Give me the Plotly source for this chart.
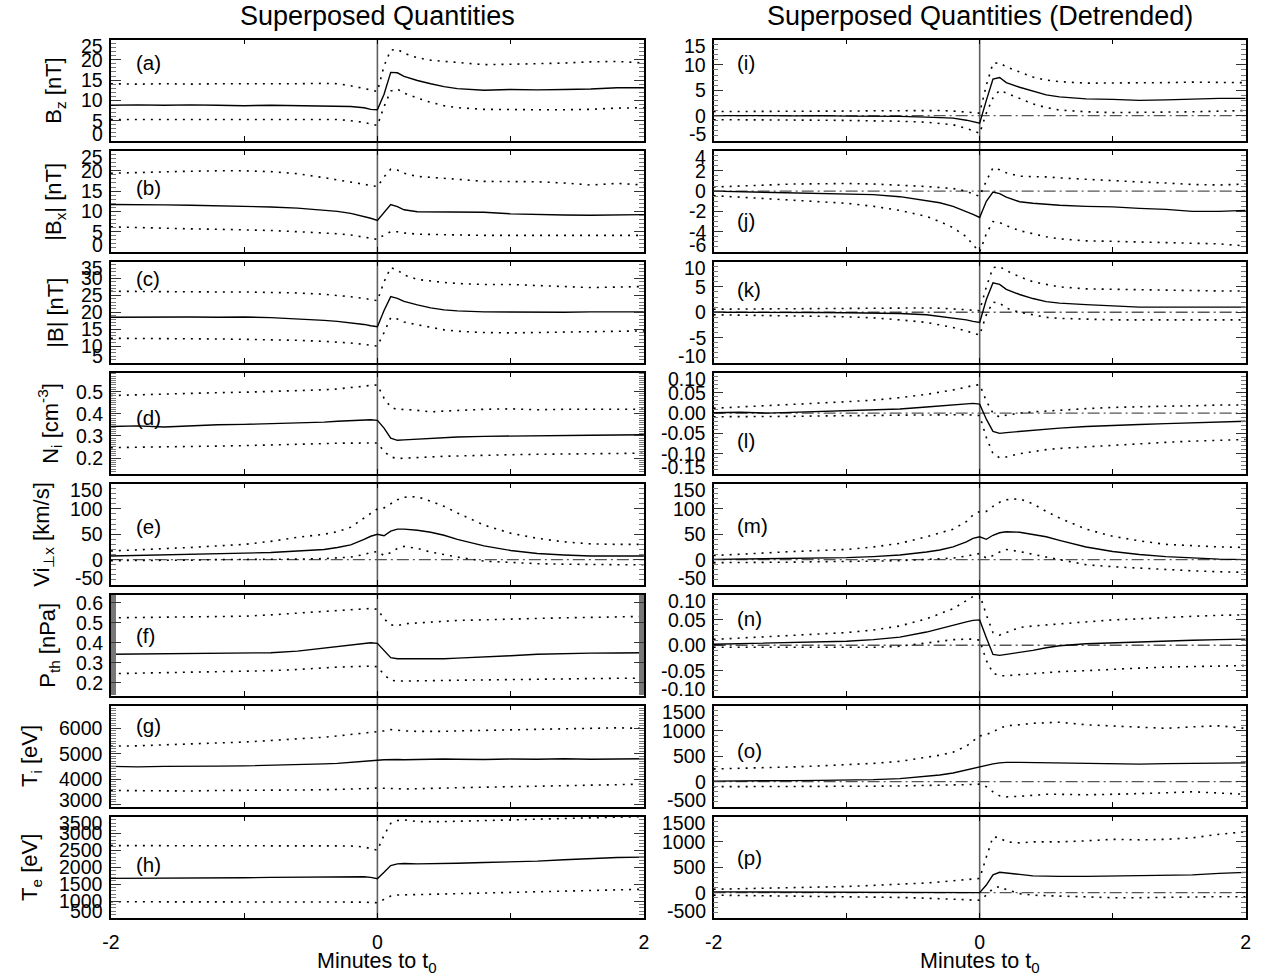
import plotly.graph_objects as go

W, H = 1270, 979
FONT = "Liberation Sans, Arial, Helvetica, sans-serif"

# ---------------- data (minutes relative to t0) ----------------
T = [-2.0, -1.8, -1.6, -1.4, -1.2, -1.0, -0.8, -0.6, -0.4, -0.3, -0.2, -0.1, -0.05,
     0.0, 0.05, 0.1, 0.15, 0.2, 0.3, 0.4, 0.5, 0.6, 0.8, 1.0, 1.2, 1.4, 1.6, 1.8, 2.0]

# (a) Bz
BZ_MED = [8.8, 8.9, 8.8, 8.9, 8.8, 8.7, 8.8, 8.7, 8.6, 8.6, 8.5, 8.2, 7.8, 7.7, 11.5, 16.9, 16.8, 15.9, 14.9, 14.1, 13.4, 12.9, 12.5, 12.7, 12.6, 12.7, 12.8, 13.1, 13.1]
BZ_UP = [14.1, 14.0, 14.1, 14.0, 14.1, 14.1, 14.0, 14.1, 14.2, 14.1, 13.6, 13.0, 12.6, 12.2, 18.5, 22.4, 22.6, 21.6, 20.5, 19.9, 19.6, 19.3, 18.8, 18.9, 19.0, 19.2, 19.5, 19.6, 19.2]
BZ_LO = [5.3, 5.3, 5.4, 5.3, 5.4, 5.4, 5.3, 5.4, 5.4, 5.3, 5.0, 4.6, 4.2, 3.8, 8.5, 12.3, 12.8, 11.8, 10.6, 9.5, 8.7, 8.2, 7.8, 7.7, 7.7, 7.7, 7.8, 8.1, 8.2]
# (b) |Bx|
BX_MED = [11.7, 11.7, 11.6, 11.5, 11.4, 11.3, 11.1, 10.8, 10.3, 10.0, 9.5, 8.8, 8.3, 7.8, 9.8, 11.7, 11.2, 10.4, 9.9, 9.9, 9.9, 9.9, 9.8, 9.4, 9.2, 9.1, 9.05, 9.1, 9.2]
BX_UP = [19.4, 19.6, 19.8, 19.9, 20.0, 20.0, 19.8, 19.3, 18.3, 17.8, 17.3, 16.8, 16.4, 16.1, 18.5, 20.4, 20.2, 19.4, 18.6, 18.4, 18.2, 17.9, 17.4, 17.4, 17.3, 17.0, 16.5, 16.9, 16.5]
BX_LO = [6.2, 6.0, 5.9, 5.7, 5.6, 5.5, 5.3, 5.0, 4.7, 4.5, 4.2, 3.7, 3.4, 3.1, 4.2, 5.0, 5.0, 4.7, 4.4, 4.3, 4.3, 4.2, 4.1, 4.1, 4.1, 4.0, 4.1, 4.1, 4.1]
# (c) |B|
BT_MED = [18.5, 18.6, 18.5, 18.6, 18.5, 18.6, 18.4, 18.1, 17.6, 17.3, 16.9, 16.4, 16.0, 15.7, 20.5, 24.6, 24.1, 23.2, 22.2, 21.3, 20.7, 20.4, 20.1, 20.0, 19.9, 20.0, 20.1, 20.1, 20.1]
BT_UP = [26.2, 26.1, 26.0, 26.1, 26.0, 26.0, 25.9, 25.7, 25.3, 25.0, 24.6, 24.1, 23.7, 23.4, 29.0, 33.2, 32.5, 31.0, 29.7, 29.2, 28.8, 28.5, 28.2, 28.2, 28.0, 27.6, 27.3, 27.5, 27.6]
BT_LO = [12.3, 12.3, 12.2, 12.2, 12.1, 12.0, 11.9, 11.7, 11.4, 11.2, 10.9, 10.5, 10.2, 10.0, 14.0, 18.4, 18.0, 17.1, 16.3, 15.5, 14.8, 14.4, 14.0, 13.9, 14.0, 14.1, 14.2, 14.4, 14.5]
# (d) Ni
NI_MED = [0.342, 0.345, 0.340, 0.346, 0.350, 0.352, 0.355, 0.357, 0.362, 0.366, 0.370, 0.372, 0.373, 0.370, 0.335, 0.290, 0.280, 0.282, 0.285, 0.290, 0.293, 0.295, 0.298, 0.300, 0.302, 0.301, 0.303, 0.304, 0.305]
NI_UP = [0.482, 0.486, 0.490, 0.493, 0.495, 0.497, 0.500, 0.503, 0.508, 0.512, 0.517, 0.524, 0.528, 0.530, 0.470, 0.430, 0.418, 0.420, 0.415, 0.408, 0.412, 0.415, 0.420, 0.422, 0.418, 0.420, 0.420, 0.422, 0.420]
NI_LO = [0.247, 0.248, 0.250, 0.252, 0.254, 0.256, 0.258, 0.261, 0.265, 0.267, 0.268, 0.270, 0.270, 0.268, 0.230, 0.205, 0.198, 0.200, 0.202, 0.205, 0.208, 0.210, 0.212, 0.215, 0.217, 0.218, 0.220, 0.222, 0.222]
# (e) Vi_perp_x
VI_MED = [7, 8, 9, 10, 11, 12, 14, 17, 20, 24, 29, 40, 46, 50, 47, 56, 60, 60, 58, 54, 48, 40, 27, 18, 12, 9, 7, 7, 7]
VI_UP = [17, 19, 21, 24, 27, 30, 36, 44, 50, 55, 64, 82, 92, 100, 102, 110, 118, 123, 124, 115, 105, 92, 68, 52, 42, 35, 31, 30, 30]
VI_LO = [-2, -2, -1, -1, 0, 0, 0, 1, 2, 3, 5, 10, 14, 16, 8, 14, 22, 26, 22, 15, 10, 5, -3, -6, -8, -9, -10, -10, -10]
# (f) Pth
PT_MED = [0.342, 0.343, 0.344, 0.344, 0.345, 0.346, 0.350, 0.358, 0.372, 0.380, 0.388, 0.396, 0.400, 0.397, 0.360, 0.325, 0.320, 0.320, 0.318, 0.318, 0.320, 0.323, 0.328, 0.335, 0.342, 0.346, 0.348, 0.349, 0.350]
PT_UP = [0.525, 0.527, 0.529, 0.530, 0.532, 0.533, 0.540, 0.548, 0.558, 0.562, 0.566, 0.570, 0.572, 0.568, 0.520, 0.490, 0.485, 0.495, 0.500, 0.505, 0.508, 0.512, 0.515, 0.520, 0.522, 0.525, 0.527, 0.530, 0.532]
PT_LO = [0.245, 0.247, 0.250, 0.252, 0.254, 0.256, 0.260, 0.266, 0.275, 0.278, 0.280, 0.283, 0.283, 0.280, 0.240, 0.212, 0.208, 0.208, 0.210, 0.210, 0.211, 0.212, 0.214, 0.217, 0.219, 0.220, 0.221, 0.222, 0.222]
# (g) Ti
TI_MED = [4500, 4480, 4500, 4490, 4510, 4520, 4540, 4560, 4600, 4620, 4650, 4680, 4700, 4740, 4760, 4780, 4770, 4760, 4780, 4770, 4790, 4780, 4770, 4790, 4780, 4800, 4780, 4790, 4800]
TI_UP = [5300, 5310, 5350, 5380, 5420, 5460, 5520, 5580, 5650, 5700, 5750, 5800, 5830, 5850, 5900, 5950, 5920, 5900, 5880, 5870, 5880, 5900, 5920, 5950, 5960, 5980, 6000, 6020, 6000]
TI_LO = [3550, 3540, 3550, 3530, 3550, 3550, 3560, 3570, 3580, 3590, 3600, 3620, 3630, 3650, 3640, 3620, 3600, 3610, 3620, 3640, 3650, 3660, 3680, 3700, 3720, 3740, 3760, 3780, 3800]
# (h) Te
TE_MED = [1670, 1670, 1680, 1680, 1690, 1690, 1700, 1710, 1720, 1730, 1730, 1720, 1700, 1660, 1850, 2050, 2100, 2110, 2100, 2100, 2110, 2120, 2140, 2150, 2180, 2220, 2260, 2290, 2300]
TE_UP = [2640, 2640, 2650, 2640, 2650, 2640, 2650, 2640, 2650, 2640, 2630, 2600, 2560, 2500, 2950, 3300, 3380, 3400, 3350, 3340, 3350, 3360, 3380, 3400, 3420, 3430, 3440, 3470, 3500]
TE_LO = [980, 980, 975, 980, 985, 980, 985, 990, 990, 985, 980, 970, 960, 950, 1050, 1150, 1180, 1180, 1190, 1200, 1210, 1220, 1240, 1250, 1270, 1290, 1310, 1330, 1350]

# (i)..(p) detrended
DBZ_MED = [0, 0.05, 0, -0.05, 0, -0.1, -0.1, -0.15, -0.3, -0.4, -0.5, -0.9, -1.2, -1.5, 3.0, 7.2, 7.5, 6.5, 5.6, 4.9, 4.1, 3.7, 3.3, 3.2, 3.0, 3.1, 3.3, 3.4, 3.4]
DBZ_UP = [0.8, 0.8, 0.85, 0.85, 0.9, 0.9, 0.95, 1.0, 1.0, 1.0, 0.9, 0.7, 0.6, 0.5, 6.0, 10.3, 10.4, 9.6, 8.6, 7.6, 7.0, 6.7, 6.4, 6.4, 6.4, 6.5, 6.6, 6.6, 6.5]
DBZ_LO = [-0.8, -0.8, -0.85, -0.9, -0.9, -0.95, -1.0, -1.1, -1.3, -1.5, -1.8, -2.5, -3.0, -3.5, 0.5, 3.5, 5.0, 4.5, 3.4, 2.3, 1.6, 1.1, 0.76, 0.6, 0.6, 0.7, 0.76, 0.9, 1.0]
DBX_MED = [0, -0.05, -0.1, -0.15, -0.2, -0.25, -0.35, -0.55, -0.9, -1.15, -1.5, -2.0, -2.3, -2.6, -1.0, -0.1, -0.25, -0.6, -1.05, -1.2, -1.3, -1.4, -1.5, -1.55, -1.7, -1.8, -2.0, -2.0, -1.9]
DBX_UP = [0.4, 0.5, 0.6, 0.7, 0.72, 0.75, 0.7, 0.6, 0.45, 0.35, 0.25, 0.0, -0.3, -0.5, 1.0, 2.3, 2.1, 1.8, 1.47, 1.42, 1.40, 1.3, 1.15, 1.0, 0.9, 0.8, 0.65, 0.6, 0.7]
DBX_LO = [-0.45, -0.6, -0.75, -0.9, -1.05, -1.2, -1.5, -1.9, -2.5, -3.0, -3.6, -4.5, -5.3, -6.0, -4.2, -3.0, -3.1, -3.4, -3.9, -4.2, -4.5, -4.7, -4.9, -4.95, -5.0, -5.05, -5.1, -5.2, -5.4]
DBT_MED = [0, 0, 0.05, 0, -0.05, -0.1, -0.15, -0.25, -0.5, -0.8, -1.1, -1.5, -1.8, -2.0, 2.5, 5.8, 5.5, 4.5, 3.5, 2.7, 2.1, 1.8, 1.5, 1.2, 1.0, 1.0, 1.0, 1.0, 1.0]
DBT_UP = [0.6, 0.65, 0.65, 0.7, 0.7, 0.75, 0.8, 0.8, 0.85, 0.8, 0.7, 0.5, 0.4, 0.3, 5.0, 8.8, 9.0, 8.2, 7.0, 6.0, 5.5, 5.0, 4.6, 4.5, 4.4, 4.3, 4.2, 4.2, 4.2]
DBT_LO = [-0.5, -0.55, -0.6, -0.7, -0.8, -0.9, -1.1, -1.5, -2.0, -2.5, -3.0, -3.7, -4.1, -4.5, -0.5, 2.0, 1.8, 0.8, 0.0, -0.5, -1.0, -1.2, -1.4, -1.5, -1.5, -1.5, -1.6, -1.5, -1.5]
DNI_MED = [0.001, 0.002, 0.0, 0.002, 0.004, 0.005, 0.007, 0.010, 0.015, 0.018, 0.021, 0.023, 0.024, 0.022, -0.015, -0.045, -0.050, -0.048, -0.045, -0.042, -0.040, -0.037, -0.033, -0.030, -0.028, -0.026, -0.024, -0.022, -0.020]
DNI_UP = [0.012, 0.015, 0.018, 0.021, 0.024, 0.028, 0.032, 0.038, 0.046, 0.051, 0.057, 0.064, 0.068, 0.070, 0.030, 0.000, -0.010, -0.005, 0.000, 0.003, 0.005, 0.008, 0.011, 0.014, 0.016, 0.017, 0.018, 0.020, 0.020]
DNI_LO = [-0.009, -0.009, -0.008, -0.008, -0.007, -0.007, -0.006, -0.005, -0.004, -0.004, -0.004, -0.004, -0.005, -0.006, -0.060, -0.100, -0.110, -0.108, -0.100, -0.095, -0.090, -0.087, -0.083, -0.080, -0.076, -0.072, -0.069, -0.067, -0.065]
DVI_MED = [0.5, 1, 1.5, 2, 3, 4, 6, 9, 15, 19, 25, 35, 42, 45, 40, 48, 53, 55, 54, 50, 45, 38, 25, 16, 10, 6, 3, 1, 0]
DVI_UP = [8, 11, 13, 16, 18, 20, 25, 32, 45, 52, 60, 75, 88, 95, 95, 105, 113, 118, 120, 110, 95, 82, 60, 46, 37, 30, 27, 25, 24]
DVI_LO = [-6, -6, -5, -5, -4, -4, -3, -2, 0, 1, 3, 7, 10, 12, 3, 8, 15, 20, 16, 10, 5, 0, -10, -14, -17, -20, -22, -24, -25]
DPT_MED = [0.002, 0.003, 0.004, 0.005, 0.006, 0.008, 0.011, 0.016, 0.026, 0.033, 0.040, 0.046, 0.049, 0.050, 0.015, -0.018, -0.020, -0.018, -0.015, -0.010, -0.005, -0.001, 0.003, 0.005, 0.007, 0.009, 0.010, 0.011, 0.012]
DPT_UP = [0.0115, 0.014, 0.017, 0.020, 0.022, 0.025, 0.030, 0.038, 0.052, 0.062, 0.072, 0.088, 0.096, 0.100, 0.060, 0.025, 0.020, 0.025, 0.035, 0.038, 0.040, 0.043, 0.047, 0.050, 0.052, 0.055, 0.057, 0.059, 0.060]
DPT_LO = [-0.004, -0.004, -0.005, -0.005, -0.005, -0.005, -0.004, -0.002, 0.004, 0.008, 0.011, 0.012, 0.012, 0.010, -0.030, -0.055, -0.060, -0.060, -0.058, -0.056, -0.055, -0.052, -0.050, -0.047, -0.045, -0.043, -0.042, -0.041, -0.040]
DTI_MED = [10, 10, 15, 20, 25, 30, 40, 60, 100, 130, 170, 230, 270, 300, 320, 350, 370, 380, 380, 375, 370, 360, 350, 350, 345, 355, 360, 365, 370]
DTI_UP = [250, 260, 270, 290, 310, 330, 360, 400, 470, 520, 580, 700, 800, 900, 930, 980, 1050, 1100, 1120, 1150, 1160, 1170, 1120, 1100, 1080, 1050, 1080, 1100, 1050]
DTI_LO = [-100, -100, -100, -95, -95, -90, -90, -85, -80, -75, -70, -60, -55, -50, -100, -200, -280, -300, -290, -270, -250, -250, -260, -250, -240, -220, -200, -220, -250]
DTE_MED = [14, 12, 10, 10, 8, 8, 6, 5, 5, 4, 3, 2, 0, 0, 150, 350, 400, 390, 360, 330, 320, 320, 320, 330, 330, 340, 350, 380, 400]
DTE_UP = [66, 80, 90, 100, 110, 120, 140, 160, 190, 210, 230, 250, 260, 280, 700, 1100, 1080, 1000, 980, 1000, 1000, 1000, 1020, 1050, 1040, 1050, 1080, 1150, 1200]
DTE_LO = [-50, -55, -60, -65, -70, -75, -85, -95, -110, -120, -130, -140, -145, -150, -50, 80, 120, 60, -20, -50, -60, -70, -90, -100, -100, -90, -85, -80, -80]

# axis ranges / tick labels
Y_RANGES = [[0, 25], [0, 25], [5, 35], [0.128, 0.586], [-50, 150], [0.133, 0.642], [2900, 6900], [500, 3500],
            [-5, 15], [-6, 4], [-10, 10], [-0.15, 0.10], [-50, 150], [-0.10, 0.10], [-500, 1500], [-500, 1500]]
Y_TICKS = [[0, 5, 10, 15, 20, 25], [0, 5, 10, 15, 20, 25], [5, 10, 15, 20, 25, 30, 35], [0.2, 0.3, 0.4, 0.5],
           [-50, 0, 50, 100, 150], [0.2, 0.3, 0.4, 0.5, 0.6], [3000, 4000, 5000, 6000],
           [500, 1000, 1500, 2000, 2500, 3000, 3500],
           [-5, 0, 5, 10, 15], [-6, -4, -2, 0, 2, 4], [-10, -5, 0, 5, 10], [-0.15, -0.10, -0.05, 0.0, 0.05, 0.10],
           [-50, 0, 50, 100, 150], [-0.10, -0.05, 0.0, 0.05, 0.10], [-500, 0, 500, 1000, 1500], [-500, 0, 500, 1000, 1500]]
Y_TICKFMT = ["{:g}", "{:g}", "{:g}", "{:.1f}", "{:g}", "{:.1f}", "{:g}", "{:g}",
             "{:g}", "{:g}", "{:g}", "{:.2f}", "{:g}", "{:.2f}", "{:g}", "{:g}"]
Y_MINOR = [1, 1, 1, 0.01, 10, 0.005, 100, 100, 1, 0.5, 1, 0.01, 10, 0.01, 100, 100]
Y_TITLES = ["B<sub>z</sub> [nT]", "|B<sub>x</sub>| [nT]", "|B| [nT]", "N<sub>i</sub> [cm<sup>-3</sup>]",
            "Vi<sub>\u22a5x</sub> [km/s]", "P<sub>th</sub> [nPa]", "T<sub>i</sub> [eV]", "T<sub>e</sub> [eV]"]
LETTERS = ["(a)", "(b)", "(c)", "(d)", "(e)", "(f)", "(g)", "(h)",
           "(i)", "(j)", "(k)", "(l)", "(m)", "(n)", "(o)", "(p)"]
X_TICKS = [-2, -1, 0, 1, 2]
X_TICKTEXT = ["-2", " ", "0", " ", "2"]
COL_TITLES = ["Superposed Quantities", "Superposed Quantities (Detrended)"]
X_TITLE = "Minutes to t<sub>0</sub>"

SERIES = [(BZ_MED, BZ_UP, BZ_LO), (BX_MED, BX_UP, BX_LO), (BT_MED, BT_UP, BT_LO), (NI_MED, NI_UP, NI_LO),
          (VI_MED, VI_UP, VI_LO), (PT_MED, PT_UP, PT_LO), (TI_MED, TI_UP, TI_LO), (TE_MED, TE_UP, TE_LO),
          (DBZ_MED, DBZ_UP, DBZ_LO), (DBX_MED, DBX_UP, DBX_LO), (DBT_MED, DBT_UP, DBT_LO), (DNI_MED, DNI_UP, DNI_LO),
          (DVI_MED, DVI_UP, DVI_LO), (DPT_MED, DPT_UP, DPT_LO), (DTI_MED, DTI_UP, DTI_LO), (DTE_MED, DTE_UP, DTE_LO)]
ZERO_LINE = [False, False, False, False, True, False, False, False] + [True] * 8

# ---------------- layout geometry (pixels) ----------------
TOP0, PERIOD, PH = 39.5, 111.0, 101.5
COL_X = [(103.0, 642.0), (712.5, 1250.5)]
TITLE_X = [47, 47, 47, 41, 35, 41, 23, 23]
LETTER_Y = [62, 188, 279, 417, 526, 635, 725, 864, 62, 220, 289, 440, 525, 618, 750, 857]
LETTER_X = [126, 734]
TICK_FS = 19.5

fig = go.Figure()
layout = dict(width=W, height=H, margin=dict(l=0, r=0, t=0, b=0),
              paper_bgcolor="white", plot_bgcolor="rgba(0,0,0,0)", showlegend=False,
              font=dict(family=FONT, size=18, color="black"))
annotations = []
shapes = []

for k in range(16):
    col, row = divmod(k, 8)
    n = k + 1
    xs = "x" if n == 1 else f"x{n}"
    ys = "y" if n == 1 else f"y{n}"
    top = TOP0 + PERIOD * row
    bot = top + PH
    xl, xr = COL_X[col]
    lo_r, hi_r = Y_RANGES[k]
    med, up, lo = SERIES[k]

    if ZERO_LINE[k]:
        fig.add_trace(go.Scatter(x=[T[0], T[-1]], y=[0, 0], mode="lines", xaxis=xs, yaxis=ys,
                                 line=dict(color="#555555", width=1.3, dash="12px,4px,2px,4px"),
                                 hoverinfo="skip"))
    for arr in (up, lo):
        fig.add_trace(go.Scatter(x=T, y=arr, mode="lines", xaxis=xs, yaxis=ys,
                                 line=dict(color="black", width=1.6, dash="2px,6px")))
    fig.add_trace(go.Scatter(x=T, y=med, mode="lines", xaxis=xs, yaxis=ys,
                             line=dict(color="black", width=1.4)))

    xkey = "xaxis" if n == 1 else f"xaxis{n}"
    ykey = "yaxis" if n == 1 else f"yaxis{n}"
    layout[xkey] = dict(domain=[xl / W, xr / W], anchor=ys, range=[-2, 2],
                        showline=True, mirror="ticks", linecolor="black", linewidth=1.5,
                        ticks="inside", ticklen=5, tickwidth=1, tickcolor="black",
                        tickmode="array", tickvals=X_TICKS, ticktext=X_TICKTEXT,
                        showticklabels=(row == 7), ticklabelstandoff=6,
                        tickfont=dict(size=TICK_FS), showgrid=False, zeroline=False)
    layout[ykey] = dict(domain=[1 - bot / H, 1 - top / H], anchor=xs, range=[lo_r, hi_r],
                        showline=True, mirror="ticks", linecolor="black", linewidth=1.5,
                        ticks="inside", ticklen=10, tickwidth=1, tickcolor="#333333",
                        tickmode="array", tickvals=Y_TICKS[k], showticklabels=False,
                        minor=dict(ticks="inside", ticklen=5, tickwidth=1, tickcolor="#777777",
                                   tickmode="linear", tick0=0, dtick=Y_MINOR[k], showgrid=False),
                        showgrid=False, zeroline=False)

    # y tick labels (kept inside the panel's height, as in the original)
    for v in Y_TICKS[k]:
        p = top + (hi_r - v) / (hi_r - lo_r) * PH
        c = min(max(p, top + 6.5), bot - 7.0)
        annotations.append(dict(x=(xl - 6) / W, xref="paper", y=v, yref=ys, yshift=p - c,
                                text=Y_TICKFMT[k].format(v), showarrow=False,
                                xanchor="right", yanchor="middle",
                                font=dict(size=TICK_FS, family=FONT, color="black")))
    # panel letter
    annotations.append(dict(x=LETTER_X[col] / W, xref="paper", y=1 - LETTER_Y[k] / H, yref="paper",
                            text=LETTERS[k], showarrow=False, xanchor="left", yanchor="middle",
                            font=dict(size=20.5, family=FONT, color="black")))
    # y title on left column
    if col == 0:
        annotations.append(dict(x=TITLE_X[row] / W, xref="paper", y=1 - (top + PH / 2) / H, yref="paper",
                                text=Y_TITLES[row], showarrow=False, textangle=-90,
                                xanchor="center", yanchor="middle",
                                font=dict(size=22, family=FONT, color="black")))

for col in range(2):
    xl, xr = COL_X[col]
    xs = "x" if col == 0 else "x9"
    shapes.append(dict(type="line", xref=xs, yref="paper", x0=0, x1=0,
                       y0=1 - (TOP0 + PERIOD * 7 + PH) / H, y1=1 - TOP0 / H,
                       line=dict(color="#606060", width=1.6), layer="below"))
    annotations.append(dict(x=(xl + xr) / 2 / W, xref="paper", y=1 - 16 / H, yref="paper",
                            text=COL_TITLES[col], showarrow=False, xanchor="center", yanchor="middle",
                            font=dict(size=27, family=FONT, color="black")))
    annotations.append(dict(x=(xl + xr) / 2 / W, xref="paper", y=1 - 962 / H, yref="paper",
                            text=X_TITLE, showarrow=False, xanchor="center", yanchor="middle",
                            font=dict(size=21.5, family=FONT, color="black")))

layout["annotations"] = annotations
layout["shapes"] = shapes
fig.update_layout(**layout)
fig.write_html("out.html")
